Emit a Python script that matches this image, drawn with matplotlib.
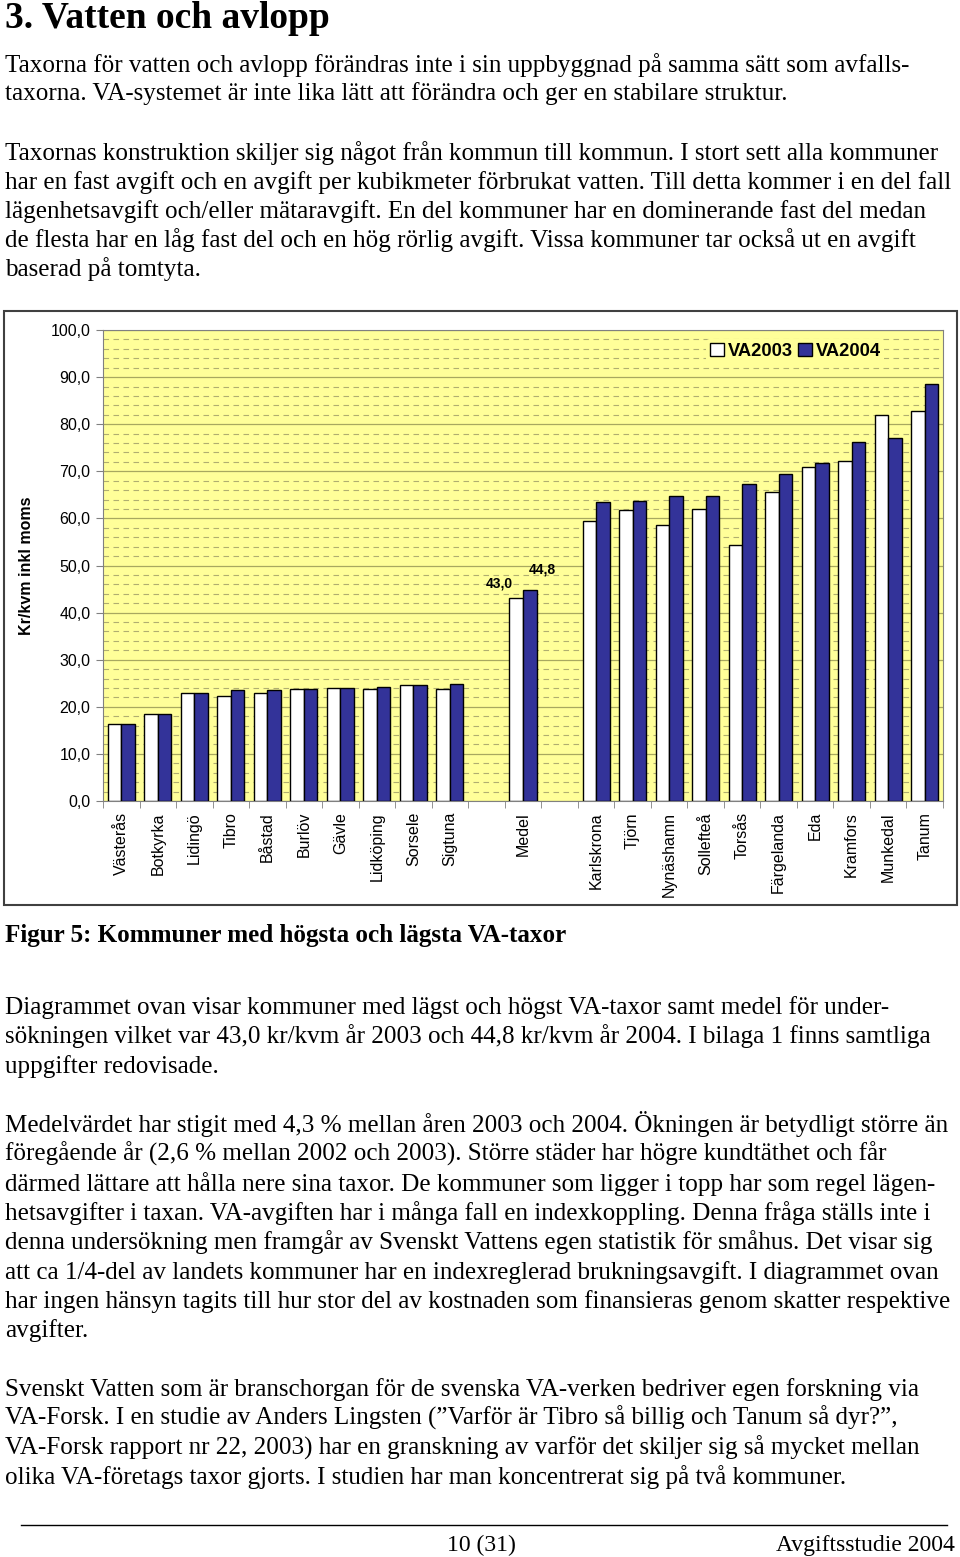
import matplotlib
matplotlib.use("Agg")
import matplotlib.pyplot as plt
import numpy as np
from matplotlib.patches import Rectangle
from matplotlib.ticker import MultipleLocator, FixedLocator, NullFormatter

W, H = 960, 1557

# chart data (empty names are spacer categories)
categories = ["Västerås", "Botkyrka", "Lidingö", "Tibro", "Båstad", "Burlöv", "Gävle",
              "Lidköping", "Sorsele", "Sigtuna", "", "Medel", "", "Karlskrona", "Tjörn",
              "Nynäshamn", "Sollefteå", "Torsås", "Färgelanda", "Eda", "Kramfors",
              "Munkedal", "Tanum"]
va2003 = [16.4, 18.5, 23.0, 22.3, 22.9, 23.7, 24.0, 23.7, 24.7, 23.7, np.nan, 43.0, np.nan,
          59.5, 61.8, 58.6, 62.0, 54.4, 65.5, 70.9, 72.1, 82.0, 82.7]
va2004 = [16.4, 18.5, 23.0, 23.6, 23.6, 23.7, 24.0, 24.3, 24.7, 24.8, np.nan, 44.8, np.nan,
          63.5, 63.8, 64.8, 64.8, 67.2, 69.4, 71.8, 76.2, 77.0, 88.6]
y_ticks = [0, 10, 20, 30, 40, 50, 60, 70, 80, 90, 100]

top_lines = [
    "Taxorna för vatten och avlopp förändras inte i sin uppbyggnad på samma sätt som avfalls-",
    "taxorna. VA-systemet är inte lika lätt att förändra och ger en stabilare struktur.",
    "Taxornas konstruktion skiljer sig något från kommun till kommun. I stort sett alla kommuner",
    "har en fast avgift och en avgift per kubikmeter förbrukat vatten. Till detta kommer i en del fall",
    "lägenhetsavgift och/eller mätaravgift. En del kommuner har en dominerande fast del medan",
    "de flesta har en låg fast del och en hög rörlig avgift. Vissa kommuner tar också ut en avgift",
    "baserad på tomtyta.",
]
top_y = [72, 100, 160, 189, 218, 247, 276]

bottom_lines = [
    "Diagrammet ovan visar kommuner med lägst och högst VA-taxor samt medel för under-",
    "sökningen vilket var 43,0 kr/kvm år 2003 och 44,8 kr/kvm år 2004. I bilaga 1 finns samtliga",
    "uppgifter redovisade.",
    "Medelvärdet har stigit med 4,3 % mellan åren 2003 och 2004. Ökningen är betydligt större än",
    "föregående år (2,6 % mellan 2002 och 2003). Större städer har högre kundtäthet och får",
    "därmed lättare att hålla nere sina taxor. De kommuner som ligger i topp har som regel lägen-",
    "hetsavgifter i taxan. VA-avgiften har i många fall en indexkoppling. Denna fråga ställs inte i",
    "denna undersökning men framgår av Svenskt Vattens egen statistik för småhus. Det visar sig",
    "att ca 1/4-del av landets kommuner har en indexreglerad brukningsavgift. I diagrammet ovan",
    "har ingen hänsyn tagits till hur stor del av kostnaden som finansieras genom skatter respektive",
    "avgifter.",
    "Svenskt Vatten som är branschorgan för de svenska VA-verken bedriver egen forskning via",
    "VA-Forsk. I en studie av Anders Lingsten (”Varför är Tibro så billig och Tanum så dyr?”,",
    "VA-Forsk rapport nr 22, 2003) har en granskning av varför det skiljer sig så mycket mellan",
    "olika VA-företags taxor gjorts. I studien har man koncentrerat sig på två kommuner.",
]
bottom_y = [1014, 1043, 1073, 1132, 1161, 1191, 1220, 1249, 1279, 1308, 1337,
            1396, 1425, 1455, 1484]

SERIF = "Liberation Serif"
SANS = "Liberation Sans"
BODY = 18.1


def fx(x):
    return x / W


def fy(y):
    return 1 - y / H


fig = plt.figure(figsize=(W / 100, H / 100), dpi=100)
fig.patch.set_facecolor("white")

# page text
fig.text(fx(5), fy(28), "3. Vatten och avlopp", family=SERIF, weight="bold",
         fontsize=27, va="baseline")
for line, y in zip(top_lines, top_y):
    fig.text(fx(5), fy(y), line, family=SERIF, fontsize=BODY, va="baseline")

fig.text(fx(5), fy(942), "Figur 5: Kommuner med högsta och lägsta VA-taxor", family=SERIF,
         weight="bold", fontsize=BODY, va="baseline")
for line, y in zip(bottom_lines, bottom_y):
    fig.text(fx(5), fy(y), line, family=SERIF, fontsize=BODY, va="baseline")

# footer
fig.add_artist(plt.Line2D([fx(21), fx(947)], [fy(1525), fy(1525)], color="black", lw=1.0))
fig.text(fx(481), fy(1551), "10 (31)", family=SERIF, fontsize=17, ha="center", va="baseline")
fig.text(fx(955), fy(1551), "Avgiftsstudie 2004", family=SERIF, fontsize=17, ha="right",
         va="baseline")

# chart frame
fig.add_artist(Rectangle((fx(4), fy(905)), fx(953), (905 - 311) / H, transform=fig.transFigure,
                         facecolor="none", edgecolor="#404040", lw=1.5))

ax = fig.add_axes([fx(103), fy(801), fx(943 - 103), (801 - 330) / H])
ax.set_facecolor("#FFFF99")

x = np.arange(len(categories))
bw = 0.37
ax.bar(x - bw / 2, va2003, bw, color="white", edgecolor="black", lw=1.0, label="VA2003", zorder=3)
ax.bar(x + bw / 2, va2004, bw, color="#333399", edgecolor="black", lw=1.0, label="VA2004", zorder=3)

medel = categories.index("Medel")
ax.annotate(f"{va2003[medel]:.1f}".replace(".", ","), (x[medel] - bw / 2, va2003[medel]),
            xytext=(-12, 6), textcoords="offset points", ha="center", va="bottom",
            family=SANS, weight="bold", fontsize=10)
ax.annotate(f"{va2004[medel]:.1f}".replace(".", ","), (x[medel] + bw / 2, va2004[medel]),
            xytext=(9, 10), textcoords="offset points", ha="center", va="bottom",
            family=SANS, weight="bold", fontsize=10)

ax.set_xlim(-0.5, len(categories) - 0.5)
ax.set_ylim(0, 100)
ax.set_yticks(y_ticks)
ax.set_yticklabels([f"{v:.1f}".replace(".", ",") for v in y_ticks], family=SANS, fontsize=11.5)
ax.yaxis.set_minor_locator(MultipleLocator(2))
ax.grid(axis="y", which="major", color="#A8A860", lw=0.9, zorder=1)
ax.grid(axis="y", which="minor", color="#B0AE70", lw=0.8, ls=(0, (5, 4)), zorder=1)
ax.tick_params(axis="y", which="minor", length=0)
ax.tick_params(axis="y", which="major", length=5, color="#808080", pad=4)

ax.set_xticks(x)
ax.set_xticklabels(categories, rotation=90, family=SANS, fontsize=11.5, va="top")
ax.tick_params(axis="x", which="major", length=0, pad=8)
ax.xaxis.set_minor_locator(FixedLocator(np.arange(-0.5, len(categories), 1.0)))
ax.xaxis.set_minor_formatter(NullFormatter())
ax.tick_params(axis="x", which="minor", length=5, color="#808080")

for side in ["top", "right", "left", "bottom"]:
    ax.spines[side].set_color("#808080")

ax.set_ylabel("Kr/kvm inkl moms", family=SANS, weight="bold", fontsize=11.5)
ax.yaxis.set_label_coords(-0.082, 0.5)

leg = ax.legend(loc="upper right", bbox_to_anchor=(0.941, 1.0), ncol=2, frameon=True,
                facecolor="#FFFF99", edgecolor="none", framealpha=1,
                prop={"family": SANS, "weight": "bold", "size": 13.2},
                handlelength=0.75, handleheight=0.75, handletextpad=0.2, columnspacing=0.3,
                borderpad=0.2)
leg.set_zorder(5)

fig.savefig("out.png", dpi=100)
